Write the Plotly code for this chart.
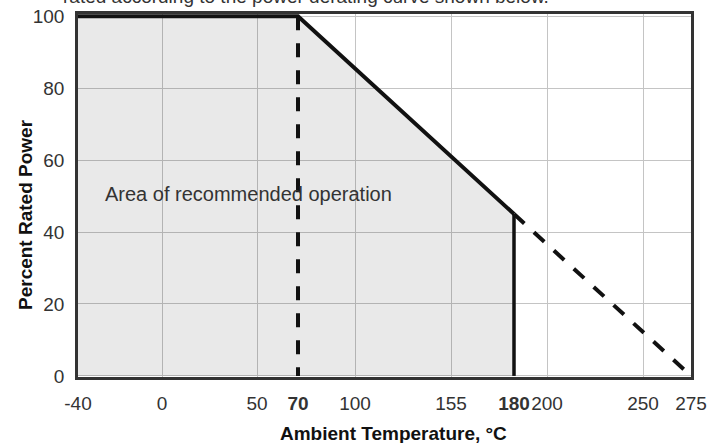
import numpy as np
import plotly.graph_objects as go

# ---- axis scale (the reference's temperature axis is hand-drawn, non-linear) ----
scale_temps = [-40, 0, 50, 70, 100, 155, 180, 200, 250, 275]
scale_units = [0, 84, 179, 220, 277, 373, 436, 469, 565, 613]

def tx(t):
    return np.interp(np.asarray(t, dtype=float), scale_temps, scale_units)

# ---- tick labels ----
x_tick_temps = [-40, 0, 50, 70, 100, 155, 180, 200, 250, 275]
x_tick_text = ["-40", "0", "50", "<b>70</b>", "100", "155", "<b>180</b>", "200", "250", "275"]
x_grid_temps = [0, 50, 100, 155, 200, 250]
y_ticks = [0, 20, 40, 60, 80, 100]

# ---- data ----
derate_temp = [-40, 70, 180]
derate_power = [100, 100, 45]
extension_temp = [180, 275]
extension_power = [45, 0]
knee_temp = 70
cutoff_temp = 180

fig = go.Figure()

fig.add_trace(go.Scatter(
    x=tx(derate_temp), y=derate_power, mode="lines",
    line=dict(color="#111111", width=4),
    fill="tozeroy", fillcolor="rgba(0,0,0,0.085)",
    hoverinfo="skip", showlegend=False))

fig.add_trace(go.Scatter(
    x=tx([knee_temp, knee_temp]), y=[100, 0], mode="lines",
    line=dict(color="#111111", width=4, dash="14px,13px"),
    hoverinfo="skip", showlegend=False))

fig.add_trace(go.Scatter(
    x=tx([cutoff_temp, cutoff_temp]), y=[derate_power[-1], 0], mode="lines",
    line=dict(color="#111111", width=3.5),
    hoverinfo="skip", showlegend=False))

fig.add_trace(go.Scatter(
    x=tx(extension_temp), y=extension_power, mode="lines",
    line=dict(color="#111111", width=4, dash="14px,13px"),
    hoverinfo="skip", showlegend=False))

FONT = "Liberation Sans, Arial, sans-serif"
ML, MR, MT, MB = 78, 34, 14, 66
pw, ph = 725 - ML - MR, 443 - MT - MB

def px_to_paper(px, py):
    return (px - ML) / pw, 1 - (py - MT) / ph

xt, yt = px_to_paper(393, 433)
xy, yy = px_to_paper(25, 215)
xs, ys = px_to_paper(551, 9)

fig.update_layout(
    width=725, height=443,
    margin=dict(l=ML, r=MR, t=MT, b=MB, autoexpand=False),
    paper_bgcolor="white", plot_bgcolor="white",
    font=dict(family=FONT, size=19, color="#333333"),
    xaxis=dict(
        range=[tx(-40), tx(275)], automargin=False, tickangle=0,
        tickmode="array", tickvals=tx(x_tick_temps), ticktext=x_tick_text,
        ticks="", ticklabelstandoff=7,
        showgrid=False, zeroline=False,
        showline=True, mirror=True, linecolor="#333333", linewidth=2.5,
        minor=dict(tickvals=list(tx(x_grid_temps)), showgrid=True,
                   gridcolor="#c4c4c4", gridwidth=1.2, ticks=""),
        tickfont=dict(family=FONT, size=19, color="#333333"),
    ),
    yaxis=dict(
        range=[-0.3, 100.6], automargin=False,
        tickmode="array", tickvals=y_ticks,
        ticks="", ticklabelstandoff=7,
        showgrid=True, gridcolor="#c4c4c4", gridwidth=1.2, zeroline=False,
        showline=True, mirror=True, linecolor="#333333", linewidth=2.5,
        tickfont=dict(family=FONT, size=19, color="#333333"),
    ),
    annotations=[
        dict(text="Area of recommended operation", x=tx(-28), y=50.5,
             xref="x", yref="y", xanchor="left", yanchor="middle",
             showarrow=False, font=dict(family=FONT, size=20, color="#333333")),
        dict(text="<b>Ambient Temperature, °C</b>", x=xt, y=yt,
             xref="paper", yref="paper", xanchor="center", yanchor="middle",
             showarrow=False, font=dict(family=FONT, size=19, color="#111111")),
        dict(text="<b>Percent Rated Power</b>", textangle=-90,
             x=xy, y=yy, xref="paper", yref="paper", xanchor="center", yanchor="middle",
             showarrow=False, font=dict(family=FONT, size=19, color="#111111")),
        dict(text="rated according to the power derating curve shown below.",
             x=xs, y=ys, xref="paper", yref="paper", xanchor="right", yanchor="bottom",
             showarrow=False, font=dict(family=FONT, size=19, color="#333333")),
    ],
)

fig.write_html(
    "out.html",
    config={"displayModeBar": False},
    post_script="document.body.style.margin='0';document.documentElement.style.margin='0';",
)
